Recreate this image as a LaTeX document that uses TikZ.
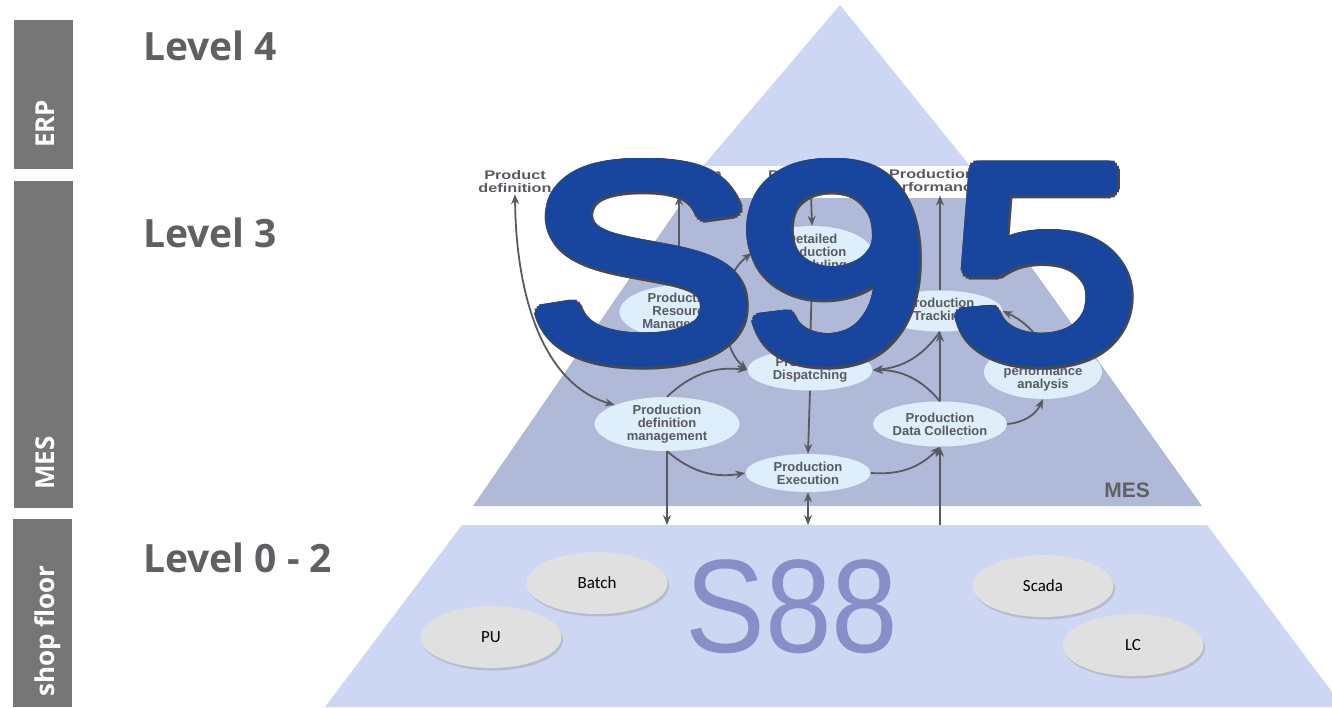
\documentclass[tikz,border=0pt]{standalone}
\usepackage{fontspec}
\setmainfont{Liberation Sans}
\newfontfamily\levelfont{Open Sans}
\newfontfamily\unitfont{Carlito}
\usepackage{xcolor}
\usepackage{tikz}
\usetikzlibrary{
    shapes,
    shapes.geometric,
    positioning,
    shadows,
    calc,
    arrows.meta
}
\definecolor{pyramid}{RGB}{205,214,243}
\definecolor{mesgray}{RGB}{176,186,216}
\definecolor{taskfill}{RGB}{222,238,250}
\definecolor{flowgray}{RGB}{88,90,96}
\definecolor{bargray}{RGB}{118,118,118}
\definecolor{levelgray}{RGB}{96,96,100}
\definecolor{sblue}{RGB}{24,70,158}
\definecolor{sshade}{RGB}{70,72,80}
\definecolor{slight}{RGB}{136,142,200}
\definecolor{unitfill}{RGB}{224,224,224}
\tikzset{
  bar/.style = {
      fill=bargray,
      draw=none
  },
  barlabel/.style = {
      rotate=90,
      anchor=base west,
      inner sep=0pt,
      text=white,
      font=\levelfont\bfseries\fontsize{26}{26}\selectfont
  },
  level/.style = {
      anchor=base west,
      inner sep=0pt,
      text=levelgray,
      font=\levelfont\bfseries\fontsize{39}{39}\selectfont
  },
  task/.style = {
      ellipse,
      fill=taskfill,
      inner sep=0pt,
      align=center,
      text=flowgray,
      font=\bfseries\fontsize{13}{13}\selectfont,
      minimum width=125pt,
      minimum height=41pt
  },
  io/.style = {
      align=center,
      inner sep=1pt,
      xscale=1.3,
      transform shape,
      text=flowgray,
      font=\bfseries\fontsize{12.5}{13}\selectfont
  },
  flow/.style = {
      draw=flowgray,
      line width=1.8pt,
      -{Stealth[length=10pt,width=8pt]}
  },
  unit/.style = {
      ellipse,
      fill=unitfill,
      draw=none,
      drop shadow={shadow xshift=1.5pt, shadow yshift=-2.5pt, opacity=0.3},
      minimum width=141pt,
      minimum height=62pt,
      font=\unitfont\fontsize{17}{17}\selectfont
  },
  bigtext/.style = {
      anchor=base west,
      inner sep=0pt,
      xscale=1.25,
      transform shape,
      font=\fontsize{275}{275}\selectfont
  }
}
\newcommand{\standard}{S\kern-14.3pt 9\kern15.4pt 5}

\begin{document}
\begin{tikzpicture}[x=1pt, y=-1pt]
        \useasboundingbox (0,0) rectangle (1332,707);
        % pyramid
        \fill[pyramid] (840,5) -- (970,166) -- (703,166) -- cycle;
        \fill[mesgray] (685,198) -- (982,198) -- (1202,506) -- (473,506) -- cycle;
        \fill[pyramid] (462,525) -- (1207,525) -- (1332,692) -- (1332,707) -- (325,707) -- cycle;
        % side bars
        \fill[bar] (14,20) rectangle (73,169);
        \fill[bar] (14,181) rectangle (73,508);
        \fill[bar] (13,519) rectangle (72,707);
        \node[barlabel] (erp) at (54,148) {ERP};
        \node[barlabel] (mesbar) at (54,490) {MES};
        \node[barlabel] (shopfloor) at (54,697) {shop floor};
        % levels
        \node[level] (lfour) at (143,60) {Level 4};
        \node[level] (lthree) at (143,247) {Level 3};
        \node[level] (lzero) at (143,572) {Level 0 - 2};
        \node[anchor=base east, inner sep=0pt, text=levelgray, font=\bfseries\fontsize{21}{21}\selectfont] (meslabel) at (1150,497) {MES};
        % outside information
        \node[io] (pdef) at (515,182) {Product\\definition};
        \node[io] (pcap) at (679,182) {Production\\capability};
        \node[io] (psched) at (811,182) {Production\\schedule};
        \node[io] (pperf) at (932,182) {Production\\performance};
        % activities
        \node[task, minimum width=120pt, minimum height=48pt] (sched) at (812,253) {Detailed\\Production\\Scheduling};
        \node[task, minimum height=47pt] (rm) at (682,312) {Production\\Resource\\Management};
        \node[task] (trk) at (940,311) {Production\\Tracking};
        \node[task] (disp) at (810,370) {Production\\Dispatching};
        \node[task, minimum width=118pt, minimum height=46pt] (pa) at (1043,372) {Production\\performance\\analysis};
        \node[task, minimum width=145pt, minimum height=52pt] (pdm) at (667,424) {Production\\definition\\management};
        \node[task, minimum width=128pt, minimum height=45pt] (dc) at (940,424) {Production\\Data Collection};
        \node[task, minimum height=38pt] (exe) at (808,473) {Production\\Execution};
        \coordinate (sfa) at (667,525);
        \coordinate (sfb) at (808,525);
        \coordinate (sfc) at (940,525);
        % Edges
        \draw[flow, {Stealth[length=10pt,width=8pt]}-{Stealth[length=10pt,width=8pt]}] (pdef.south) .. controls (516,300) and (545,385) .. (pdm.160);
        \draw[flow] (pcap.south |- rm.north) -- (pcap.south);
        \draw[flow] (psched.south) -- (sched.north);
        \draw[flow] (trk.north) -- (trk.north |- pperf.south);
        \draw[flow] (rm.north east) to[bend left=20] (sched.west);
        \draw[flow] (trk.north west) to[bend right=20] (sched.east);
        \draw[flow] (rm.south east) to[bend right=20] (disp.west);
        \draw[flow] (sched.south) -- (disp.north);
        \draw[flow] (pdm.north) to[bend left=25] (disp.west);
        \draw[flow] (disp.south) -- (exe.north);
        \draw[flow] (pdm.south) to[bend right=25] (exe.west);
        \draw[flow] (exe.east) to[bend right=25] (dc.south);
        \draw[flow] (dc.north) -- (trk.south);
        \draw[flow] (dc.north) to[bend right=25] (disp.east);
        \draw[flow] (trk.south) to[bend left=25] (disp.east);
        \draw[flow] (dc.east) to[bend right=30] (pa.south);
        \draw[flow] (pa.north) to[bend right=15] (trk.east);
        \draw[flow] (pdm.south) -- (sfa);
        \draw[flow, {Stealth[length=10pt,width=8pt]}-{Stealth[length=10pt,width=8pt]}] (exe.south) -- (sfb);
        \draw[flow] (sfc) -- (dc.south);
        % shop floor
        \node[unit] (batch) at (597,583) {Batch};
        \node[unit] (pu) at (491,637) {PU};
        \node[unit] (scada) at (1043,586) {Scada};
        \node[unit] (lc) at (1133,645) {LC};
        \node[inner sep=0pt, text=slight, font=\fontsize{133}{133}\selectfont, xscale=0.9, transform shape] (seightyeight) at (792,607) {S88};
        % S95, thickened by copies
        \coordinate (sorigin) at (526.2,357);
        \foreach \a in {0,22.5,...,337.5}
            \node[bigtext, text=sshade] at ($(sorigin)+(1,1.5)+(\a:8.5)$) {\standard};
        \foreach \a in {0,22.5,...,337.5}
            \node[bigtext, text=sblue] at ($(sorigin)+(\a:7)$) {\standard};
        \node[bigtext, text=sblue] (sninetyfive) at (sorigin) {\standard};
\end{tikzpicture}
\end{document}
